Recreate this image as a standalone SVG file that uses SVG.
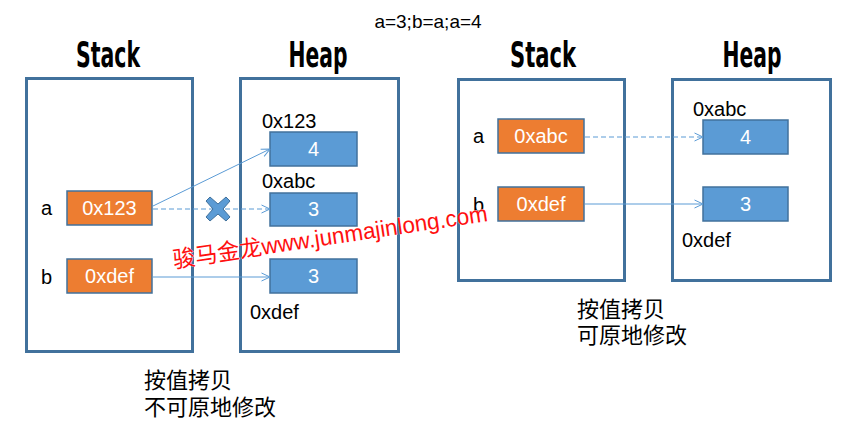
<svg xmlns="http://www.w3.org/2000/svg" width="852" height="431" viewBox="0 0 852 431">
<style>
.frame{fill:none;stroke:#41719C;stroke-width:3}
.var{fill:#ED7D31;stroke:#41719C;stroke-width:1.5}
.val{fill:#5B9BD5;stroke:#41719C;stroke-width:1.5}
.t{font-family:"Liberation Sans",Arial,sans-serif;font-size:20px;fill:#000}
.w{font-family:"Liberation Sans",Arial,sans-serif;font-size:20px;fill:#fff;text-anchor:middle}
.title{font-family:"Liberation Sans Narrow","DejaVu Sans Condensed",sans-serif;font-weight:bold;font-size:35px;fill:#000;text-anchor:middle}
.cn{font-family:"Liberation Sans","Noto Sans CJK SC",sans-serif;font-size:22px;fill:#000}
.ln{fill:none;stroke:#5B9BD5;stroke-width:1}
.dash{stroke-dasharray:5 3}
</style>
<defs>
<marker id="arr" viewBox="0 0 10 10" refX="9.5" refY="5" markerWidth="10" markerHeight="10" markerUnits="userSpaceOnUse" orient="auto">
<path d="M1,1 L9.5,5 L1,9" fill="none" stroke="#5B9BD5" stroke-width="1"/>
</marker>
</defs>
<rect width="852" height="431" fill="#fff"/>
<text x="428" y="28" text-anchor="middle" style="font-family:'Liberation Sans',Arial,sans-serif;font-size:19px">a=3;b=a;a=4</text>

<g id="left-stack">
<text class="title" x="108" y="67" textLength="64" lengthAdjust="spacingAndGlyphs">Stack</text>
<rect class="frame" x="26.5" y="78.5" width="166" height="273"/>
</g>
<g id="left-heap">
<text class="title" x="318" y="67" textLength="59" lengthAdjust="spacingAndGlyphs">Heap</text>
<rect class="frame" x="240.5" y="78.5" width="158" height="273"/>
</g>
<g id="left-a">
<text class="t" x="41" y="215">a</text>
<rect class="var" x="67" y="191" width="85" height="34"/>
<text class="w" x="109.5" y="215">0x123</text>
</g>
<g id="left-b">
<text class="t" x="41" y="284">b</text>
<rect class="var" x="67" y="259" width="85" height="34"/>
<text class="w" x="109.5" y="283">0xdef</text>
</g>
<g id="left-h1">
<text class="t" x="262" y="128">0x123</text>
<rect class="val" x="270" y="132" width="87" height="34"/>
<text class="w" x="313.5" y="156">4</text>
</g>
<g id="left-h2">
<text class="t" x="262" y="188">0xabc</text>
<rect class="val" x="270" y="193" width="87" height="33"/>
<text class="w" x="313.5" y="216">3</text>
</g>
<g id="left-h3">
<rect class="val" x="270" y="259" width="87" height="34"/>
<text class="w" x="313.5" y="283">3</text>
<text class="t" x="250" y="319">0xdef</text>
</g>

<g id="right-stack">
<text class="title" x="543" y="67" textLength="66" lengthAdjust="spacingAndGlyphs">Stack</text>
<rect class="frame" x="458.5" y="79.5" width="166" height="201"/>
</g>
<g id="right-heap">
<text class="title" x="752" y="67" textLength="59" lengthAdjust="spacingAndGlyphs">Heap</text>
<rect class="frame" x="672.5" y="79.5" width="158" height="201"/>
</g>
<g id="right-a">
<text class="t" x="473" y="143">a</text>
<rect class="var" x="498" y="119" width="86" height="34"/>
<text class="w" x="541" y="143">0xabc</text>
</g>
<g id="right-b">
<text class="t" x="473" y="212">b</text>
<rect class="var" x="498" y="187" width="86" height="34"/>
<text class="w" x="541" y="211">0xdef</text>
</g>
<g id="right-h1">
<text class="t" x="693" y="116">0xabc</text>
<rect class="val" x="703" y="120" width="85" height="34"/>
<text class="w" x="745.5" y="144">4</text>
</g>
<g id="right-h2">
<rect class="val" x="703" y="187" width="85" height="34"/>
<text class="w" x="745.5" y="211">3</text>
<text class="t" x="682" y="247">0xdef</text>
</g>

<g id="connectors">
<line class="ln" x1="153" y1="206" x2="270" y2="149" marker-end="url(#arr)"/>
<line class="ln dash" x1="153" y1="209" x2="270" y2="209" marker-end="url(#arr)"/>
<line class="ln" x1="153" y1="277" x2="270" y2="277" marker-end="url(#arr)"/>
<line class="ln dash" x1="585" y1="137" x2="703" y2="137" marker-end="url(#arr)"/>
<line class="ln" x1="585" y1="204" x2="703" y2="204" marker-end="url(#arr)"/>
</g>
<g id="cross">
<path d="M218,209 m-8,-12 l8,7 l8,-7 l4,4 l-7,8 l7,8 l-4,4 l-8,-7 l-8,7 l-4,-4 l7,-8 l-7,-8 z" fill="#5B9BD5" stroke="#41719C" stroke-width="1" stroke-linejoin="round"/>
</g>

<g id="notes">
<text class="cn" x="144" y="388">按值拷贝</text>
<text class="cn" x="144" y="415">不可原地修改</text>
<text class="cn" x="577" y="317">按值拷贝</text>
<text class="cn" x="577" y="343">可原地修改</text>
</g>
<text transform="translate(174,268) rotate(-8.5)" textLength="318" lengthAdjust="spacingAndGlyphs" style="font-family:'Liberation Sans','Noto Sans CJK SC',sans-serif;font-size:23px;fill:#FF1010;stroke:#fff;stroke-width:0.6;paint-order:stroke">骏马金龙www.junmajinlong.com</text>
</svg>
